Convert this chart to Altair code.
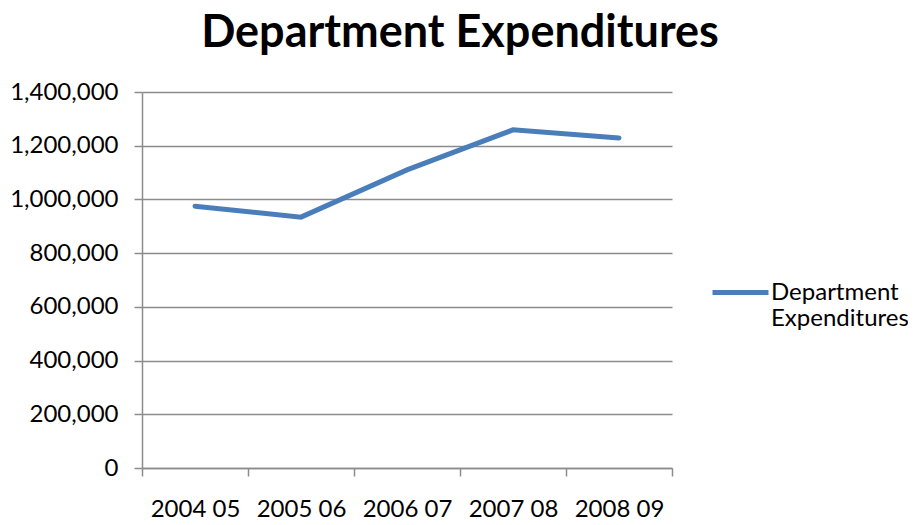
import altair as alt
import pandas as pd

years = ["2004 05", "2005 06", "2006 07", "2007 08", "2008 09"]
expenditures = [975000, 934000, 1110000, 1259000, 1229000]
series_name = "Department Expenditures"

df = pd.DataFrame({"year": years, "value": expenditures, "series": [series_name] * len(years)})

FONT = "Lato"
GRID = "#8c8c8c"

chart = alt.Chart(df).mark_line(strokeWidth=5, strokeCap="round", strokeJoin="miter").encode(
    x=alt.X("year:N", sort=years, bandPosition=0.5,
            scale=alt.Scale(type="band", paddingInner=0, paddingOuter=0),
            axis=alt.Axis(title=None, labelAngle=0, tickBand="extent", tickSize=8,
                          labelPadding=21, labelFontSize=24, labelColor="#000000",
                          domainColor=GRID, tickColor=GRID, domainWidth=1.5, tickWidth=1.5,
                          labelFont=FONT)),
    y=alt.Y("value:Q", scale=alt.Scale(domain=[0, 1400000], nice=False),
            axis=alt.Axis(title=None, values=list(range(0, 1400001, 200000)), format=",d",
                          tickSize=8, labelPadding=16, labelFontSize=24, labelColor="#000000",
                          domainColor=GRID, tickColor=GRID, gridColor=GRID, gridWidth=1.5,
                          domainWidth=1.5, tickWidth=1.5, labelFont=FONT)),
    color=alt.Color("series:N", scale=alt.Scale(range=["#4A7EBB"]),
                    legend=alt.Legend(title=None, orient="none", legendX=568, legendY=170,
                                      padding=0, symbolType="stroke", symbolSize=3136,
                                      symbolStrokeWidth=5,
                                      labelFontSize=24, labelFont=FONT, labelColor="#000000",
                                      labelExpr="split(datum.label, ' ')", labelOffset=0,
                                      labelLimit=300)),
).properties(
    width=530,
    height=376,
    title=alt.TitleParams(series_name, fontSize=45, font=FONT, fontWeight="bold",
                          color="#000000", anchor="middle", dx=53, offset=24),
    autosize=alt.AutoSizeParams(type="none"),
    padding={"left": 134, "top": 84, "right": 236, "bottom": 57},
).configure_view(stroke=None)

chart.save("out.html", embed_options={"renderer": "svg", "actions": False})
